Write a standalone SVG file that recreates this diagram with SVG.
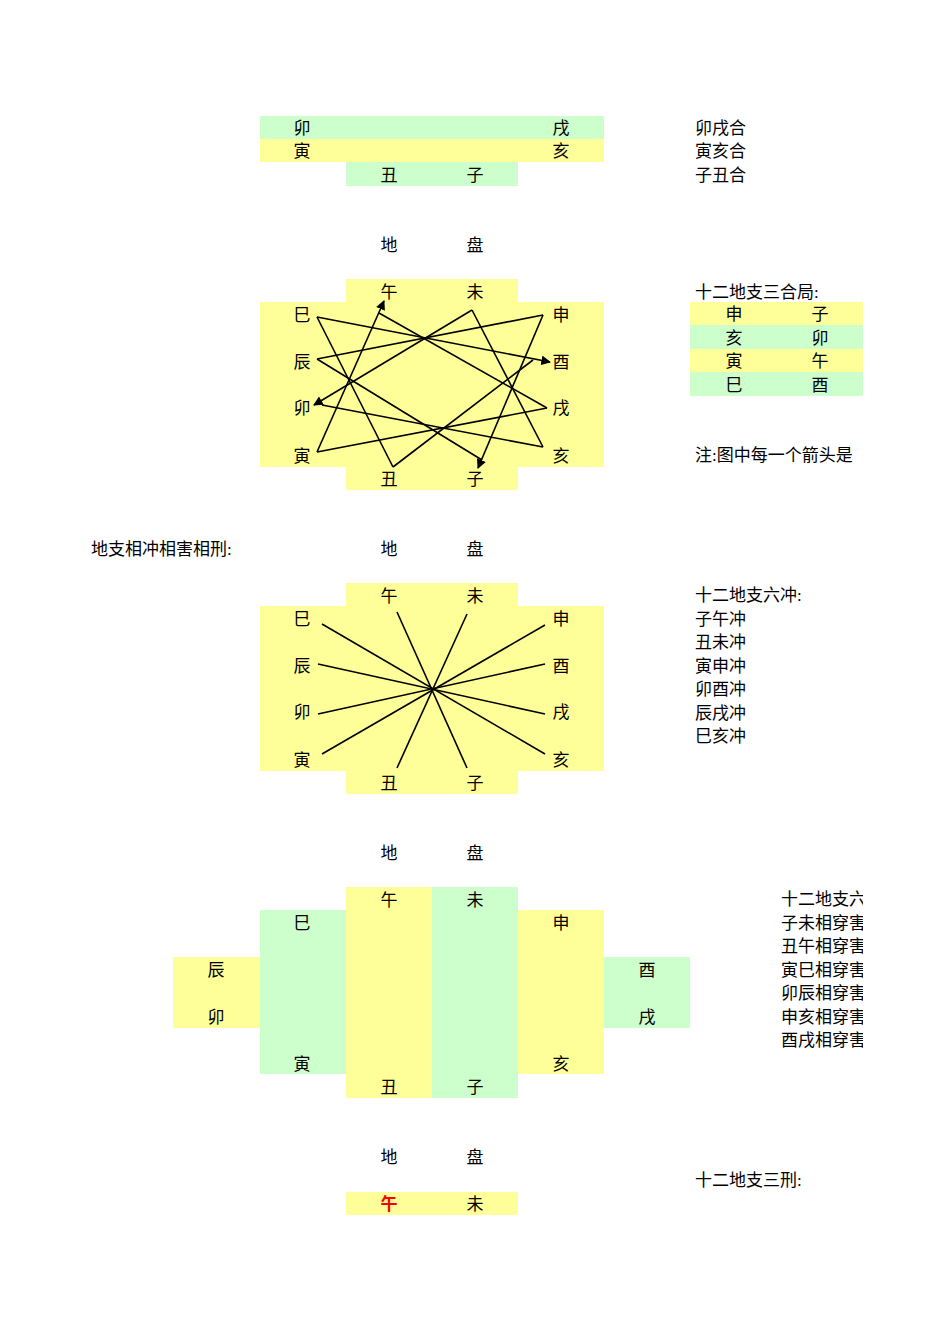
<svg xmlns="http://www.w3.org/2000/svg" width="950" height="1344" viewBox="0 0 950 1344">
<style>
text{font-family:"Liberation Serif","Noto Sans CJK SC",serif;font-size:17px;fill:#000}
.c{text-anchor:middle}
.y{fill:#FFFF99}.g{fill:#CCFFCC}
line{stroke:#000;stroke-width:1.6}
</style>
<defs>
<marker id="a" viewBox="0 0 10 10" refX="9" refY="5" markerWidth="6" markerHeight="6" orient="auto"><path d="M0,0L10,5L0,10z"/></marker>
<clipPath id="cl"><rect x="0" y="0" width="863" height="1344"/></clipPath>
</defs>
<rect width="950" height="1344" fill="#fff"/>
<g id="he">
<rect class="g" x="260" y="116" width="344" height="23"/>
<rect class="y" x="260" y="139" width="344" height="23"/>
<rect class="g" x="346" y="162" width="172" height="24"/>
<text class="c" x="302" y="134">卯</text><text class="c" x="561" y="134">戌</text>
<text class="c" x="302" y="157">寅</text><text class="c" x="561" y="157">亥</text>
<text class="c" x="389" y="181">丑</text><text class="c" x="475" y="181">子</text>
</g>
<g id="notes" clip-path="url(#cl)">
<text x="695" y="134">卯戌合</text><text x="695" y="157">寅亥合</text><text x="695" y="181">子丑合</text>
<text x="695" y="298">十二地支三合局:</text>
<rect class="y" x="690" y="302" width="173" height="23"/>
<rect class="g" x="690" y="325" width="173" height="24"/>
<rect class="y" x="690" y="349" width="173" height="23"/>
<rect class="g" x="690" y="372" width="173" height="24"/>
<text class="c" x="734" y="320">申</text><text class="c" x="820" y="320">子</text>
<text class="c" x="734" y="344">亥</text><text class="c" x="820" y="344">卯</text>
<text class="c" x="734" y="367">寅</text><text class="c" x="820" y="367">午</text>
<text class="c" x="734" y="391">巳</text><text class="c" x="820" y="391">酉</text>
<text x="695" y="461">注:图中每一个箭头是</text>
<text x="91" y="555">地支相冲相害相刑:</text>
<text x="695" y="601">十二地支六冲:</text>
<text x="695" y="625">子午冲</text><text x="695" y="648">丑未冲</text><text x="695" y="672">寅申冲</text>
<text x="695" y="695">卯酉冲</text><text x="695" y="719">辰戌冲</text><text x="695" y="742">巳亥冲</text>
<text x="781" y="905">十二地支六害:</text>
<text x="781" y="929">子未相穿害</text><text x="781" y="952">丑午相穿害</text><text x="781" y="976">寅巳相穿害</text>
<text x="781" y="999">卯辰相穿害</text><text x="781" y="1023">申亥相穿害</text><text x="781" y="1046">酉戌相穿害</text>
<text x="695" y="1186">十二地支三刑:</text>
</g>
<g id="titles">
<text class="c" x="389" y="251">地</text><text class="c" x="475" y="251">盘</text>
<text class="c" x="389" y="555">地</text><text class="c" x="475" y="555">盘</text>
<text class="c" x="389" y="859">地</text><text class="c" x="475" y="859">盘</text>
<text class="c" x="389" y="1163">地</text><text class="c" x="475" y="1163">盘</text>
</g>
<g id="sanhe">
<rect class="y" x="346" y="279" width="172" height="211"/>
<rect class="y" x="260" y="302" width="344" height="165"/>
<text class="c" x="389" y="298">午</text><text class="c" x="475" y="298">未</text>
<text class="c" x="302" y="321">巳</text><text class="c" x="561" y="321">申</text>
<text class="c" x="302" y="368">辰</text><text class="c" x="561" y="368">酉</text>
<text class="c" x="302" y="414">卯</text><text class="c" x="561" y="414">戌</text>
<text class="c" x="302" y="462">寅</text><text class="c" x="561" y="462">亥</text>
<text class="c" x="389" y="485">丑</text><text class="c" x="475" y="485">子</text>
</g>
<g id="sanhe-lines">
<line x1="317" y1="317" x2="393" y2="467"/>
<line x1="317" y1="317" x2="550" y2="362" marker-end="url(#a)"/>
<line x1="317" y1="452" x2="384" y2="301" marker-end="url(#a)"/>
<line x1="379" y1="313" x2="547" y2="408"/>
<line x1="472" y1="310" x2="314" y2="405" marker-end="url(#a)"/>
<line x1="472" y1="310" x2="543" y2="447"/>
<line x1="543" y1="315" x2="317" y2="359"/>
<line x1="543" y1="315" x2="478" y2="468" marker-end="url(#a)"/>
<line x1="317" y1="359" x2="482" y2="460"/>
<line x1="393" y1="467" x2="533" y2="360"/>
<line x1="322" y1="405" x2="543" y2="447"/>
<line x1="317" y1="452" x2="547" y2="408"/>
</g>
<g id="chong">
<rect class="y" x="346" y="583" width="172" height="211"/>
<rect class="y" x="260" y="606" width="344" height="165"/>
<text class="c" x="389" y="602">午</text><text class="c" x="475" y="602">未</text>
<text class="c" x="302" y="625">巳</text><text class="c" x="561" y="625">申</text>
<text class="c" x="302" y="672">辰</text><text class="c" x="561" y="672">酉</text>
<text class="c" x="302" y="718">卯</text><text class="c" x="561" y="718">戌</text>
<text class="c" x="302" y="766">寅</text><text class="c" x="561" y="766">亥</text>
<text class="c" x="389" y="789">丑</text><text class="c" x="475" y="789">子</text>
</g>
<g id="chong-lines">
<line x1="322" y1="624" x2="545" y2="754"/>
<line x1="397" y1="612" x2="467" y2="768"/>
<line x1="467" y1="614" x2="397" y2="768"/>
<line x1="545" y1="625" x2="322" y2="754"/>
<line x1="318" y1="664" x2="545" y2="714"/>
<line x1="545" y1="664" x2="318" y2="714"/>
</g>
<g id="hai">
<rect class="y" x="346" y="887" width="86" height="211"/>
<rect class="g" x="432" y="887" width="86" height="211"/>
<rect class="g" x="260" y="910" width="86" height="164"/>
<rect class="y" x="518" y="910" width="86" height="164"/>
<rect class="y" x="173" y="957" width="87" height="71"/>
<rect class="g" x="604" y="957" width="86" height="71"/>
<text class="c" x="389" y="906">午</text><text class="c" x="475" y="906">未</text>
<text class="c" x="302" y="929">巳</text><text class="c" x="561" y="929">申</text>
<text class="c" x="216" y="976">辰</text><text class="c" x="647" y="976">酉</text>
<text class="c" x="216" y="1023">卯</text><text class="c" x="647" y="1023">戌</text>
<text class="c" x="302" y="1070">寅</text><text class="c" x="561" y="1070">亥</text>
<text class="c" x="389" y="1093">丑</text><text class="c" x="475" y="1093">子</text>
</g>
<g id="xing">
<rect class="y" x="346" y="1192" width="172" height="23"/>
<text class="c" x="389" y="1210" style="fill:#FF0000;font-weight:bold">午</text><text class="c" x="475" y="1210">未</text>
</g>
</svg>
